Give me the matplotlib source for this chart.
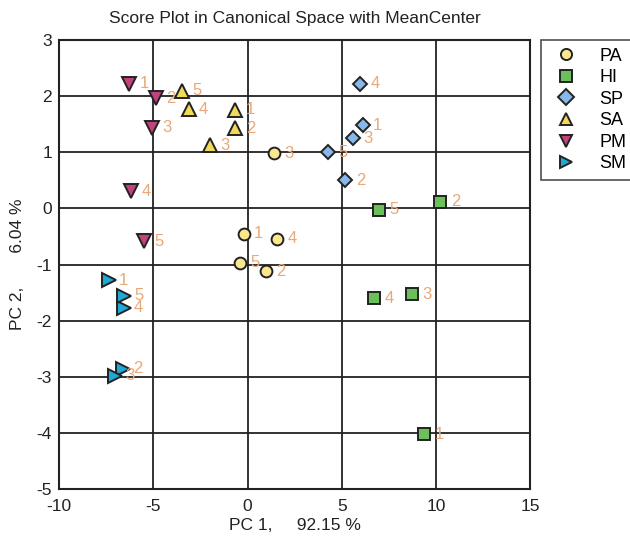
import matplotlib
matplotlib.use("Agg")
import matplotlib.pyplot as plt

plt.rcParams['font.family'] = ['Liberation Sans', 'DejaVu Sans']
plt.rcParams['axes.unicode_minus'] = False

groups = ["PA", "HI", "SP", "SA", "PM", "SM"]
ids = ["1", "2", "3", "4", "5"]

pa_x = [-0.21, 0.97, 1.38, 1.59, -0.39]
pa_y = [-0.45, -1.12, 0.98, -0.54, -0.97]
hi_x = [9.36, 10.23, 8.74, 6.73, 6.98]
hi_y = [-4.02, 0.12, -1.53, -1.60, -0.02]
sp_x = [6.11, 5.19, 5.58, 5.97, 4.28]
sp_y = [1.48, 0.50, 1.25, 2.22, 1.00]
sa_x = [-0.65, -0.65, -2.01, -3.13, -3.48]
sa_y = [1.76, 1.43, 1.13, 1.77, 2.10]
pm_x = [-6.27, -4.85, -5.05, -6.16, -5.51]
pm_y = [2.22, 1.96, 1.44, 0.31, -0.58]
sm_x = [-7.37, -6.60, -7.05, -6.57, -6.57]
sm_y = [-1.28, -2.85, -2.98, -1.77, -1.55]

xs = [pa_x, hi_x, sp_x, sa_x, pm_x, sm_x]
ys = [pa_y, hi_y, sp_y, sa_y, pm_y, sm_y]
markers = ["o", "s", "D", "^", "v", ">"]
sizes = [8.5, 8.5, 7, 10, 10, 10]
colors = ["#FBE88E", "#6CC05A", "#86B8EA", "#F0DA58", "#C0437C", "#1FA8D8"]

fig = plt.figure(figsize=(6.3, 5.36), dpi=100)
ax = fig.add_axes([0.0937, 0.0871, 0.748, 0.8383])

handles = []
for g, x, y, m, s, c in zip(groups, xs, ys, markers, sizes, colors):
    h, = ax.plot(x, y, linestyle="none", marker=m, markersize=s,
                 markerfacecolor=c, markeredgecolor="#222222",
                 markeredgewidth=1.4, label=g, zorder=3)
    handles.append(h)
    for xi, yi, t in zip(x, y, ids):
        ax.annotate(t, (xi, yi), xytext=(7.5, 0), textcoords="offset points",
                    va="center", ha="left", fontsize=12, color="#E9A878",
                    zorder=4)

ax.set_xlim(-10, 15)
ax.set_ylim(-5, 3)
ax.set_xticks([-10, -5, 0, 5, 10, 15])
ax.set_yticks([-5, -4, -3, -2, -1, 0, 1, 2, 3])
ax.grid(True, color="#222222", linewidth=1.3)
ax.set_axisbelow(True)
for sp in ax.spines.values():
    sp.set_color("#222222")
    sp.set_linewidth(1.5)
ax.tick_params(axis="x", length=0, labelsize=12.5, pad=7, colors="#222222")
ax.tick_params(axis="y", length=0, labelsize=12.5, pad=5, colors="#222222")

ax.set_title("Score Plot in Canonical Space with MeanCenter", fontsize=12.5,
             color="#222222", pad=12)
ax.set_xlabel("PC 1,     92.15 %", fontsize=12.5, color="#222222", labelpad=3)
ax.set_ylabel("PC 2,       6.04 %", fontsize=12.5, color="#222222", labelpad=8)

leg = fig.legend(handles=handles, loc="upper left",
                 bbox_to_anchor=(0.858, 0.926), fontsize=13,
                 frameon=True, fancybox=False, borderaxespad=0,
                 handletextpad=0.9, labelspacing=0.25, borderpad=0.45,
                 handlelength=1.9)
leg.get_frame().set_edgecolor("#222222")
leg.get_frame().set_linewidth(1.2)
for h in leg.legend_handles:
    h.set_markersize(8)

fig.savefig("out.png", dpi=100)
